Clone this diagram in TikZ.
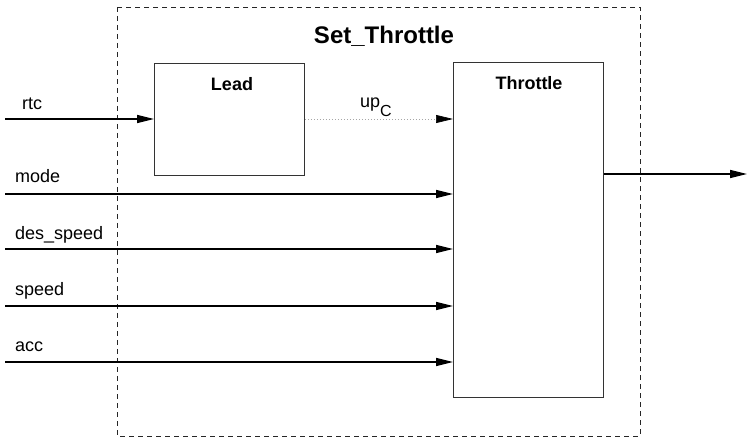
\documentclass[tikz,border=0pt]{standalone}
\usepackage{fontspec}
\setmainfont{Liberation Sans}
\usetikzlibrary{arrows.meta}
\begin{document}
\begin{tikzpicture}[x=1pt,y=-1pt,
  lbl/.style={font=\fontsize{18}{20}\selectfont, anchor=base west, inner sep=0pt},
  ttl/.style={font=\fontsize{18}{20}\selectfont\bfseries, anchor=base, inner sep=0pt},
  blk/.style={draw=black!80, line width=0.8pt, anchor=north west, inner sep=0pt},
  sig/.style={line width=1.6pt, -{Triangle[length=17pt,width=8pt]}},
  dsig/.style={line width=0.7pt, gray!70, dash pattern=on 1pt off 2pt, -{Triangle[length=17pt,width=8pt,color=black]}},
  frame/.style={draw=black!85, line width=0.8pt, dash pattern=on 5pt off 4pt}]
\useasboundingbox (0,0) rectangle (747,438);
% outer dashed frame
\draw[frame] (117,7) rectangle (640,436);
\node[font=\fontsize{24}{28}\selectfont\bfseries, anchor=base, inner sep=0pt] (title) at (384,44) {Set\_Throttle};
% blocks
\node[blk, minimum width=150pt, minimum height=112pt] (lead) at (154,63) {};
\node[blk, minimum width=150pt, minimum height=335pt] (thr) at (453,62) {};
\node[ttl] (leadt) at (232,91) {Lead};
\node[ttl] (thrt) at (529,90) {Throttle};
% input coordinates
\coordinate (irtc) at (5,119);
\coordinate (imode) at (5,194);
\coordinate (ides) at (5,249);
\coordinate (ispeed) at (5,306);
\coordinate (iacc) at (5,362);
\coordinate (oout) at (747,174);
% labels
\node[lbl] (lrtc) at (22,110) {rtc};
\node[lbl] (lmode) at (15,183) {mode};
\node[lbl] (ldes) at (15,240) {des\_speed};
\node[lbl] (lspeed) at (15,296) {speed};
\node[lbl] (lacc) at (15,352) {acc};
\node[lbl] (lup) at (360,108) {up\raisebox{-9pt}{\fontsize{16}{18}\selectfont C}};
% connectors
\draw[sig] (irtc) -- (lead.west |- irtc);
\draw[dsig] (lead.east |- irtc) -- (thr.west |- irtc);
\draw[sig] (imode) -- (thr.west |- imode);
\draw[sig] (ides) -- (thr.west |- ides);
\draw[sig] (ispeed) -- (thr.west |- ispeed);
\draw[sig] (iacc) -- (thr.west |- iacc);
\draw[sig] (thr.east |- oout) -- (oout);
\end{tikzpicture}
\end{document}
